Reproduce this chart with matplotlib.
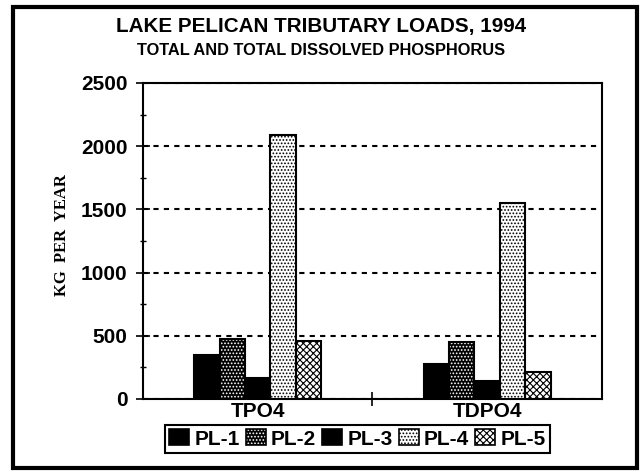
import numpy as np
import matplotlib.pyplot as plt
from matplotlib.patches import Patch, Rectangle
from matplotlib.ticker import MultipleLocator

# Cargas anuales de fósforo (kg/año) por tributario
categorias = ['TPO4', 'TDPO4']
series = ['PL-1', 'PL-2', 'PL-3', 'PL-4', 'PL-5']
pl1 = [350, 280]
pl2 = [475, 450]
pl3 = [170, 140]
pl4 = [2085, 1550]
pl5 = [455, 210]

valores = [pl1, pl2, pl3, pl4, pl5]

# Estilo de cada serie: (relleno, color del rayado, rayado)
estilos = {
    'PL-1': ('black', 'black', None),
    'PL-2': ('black', 'white', '.....'),
    'PL-3': ('black', 'black', None),
    'PL-4': ('white', 'black', '.....'),
    'PL-5': ('white', 'black', 'xxxxx'),
}

plt.rcParams['hatch.linewidth'] = 0.8

fig = plt.figure(figsize=(6.43, 4.75), dpi=100)
ax = fig.add_axes([0.2224, 0.16, 0.7138, 0.6653])

x = np.arange(len(categorias))
ancho = 0.111
handles = []
for i, (nombre, vals) in enumerate(zip(series, valores)):
    pos = x + (i - 2) * ancho
    cara, rayado_color, rayado = estilos[nombre]
    ax.bar(pos, vals, width=ancho, color=cara, edgecolor=rayado_color,
           hatch=rayado, linewidth=0, zorder=3)
    ax.bar(pos, vals, width=ancho, fill=False, edgecolor='black',
           linewidth=1.5, zorder=4)
    h1 = Patch(facecolor=cara, edgecolor=rayado_color, hatch=rayado, linewidth=0)
    h2 = Patch(fill=False, edgecolor='black', linewidth=1.2)
    handles.append((h1, h2))

ax.set_xlim(-0.5, 1.5)
ax.set_ylim(0, 2500)
ax.set_xticks([0.5])
ax.set_xticklabels([])
ax.set_xticks(x, minor=True)
ax.set_xticklabels(categorias, minor=True, fontsize=15, fontweight='bold',
                   family='Liberation Sans')
ax.tick_params(axis='x', which='major', direction='inout', length=10, width=1.2)
ax.tick_params(axis='x', which='minor', length=0, pad=2)

ax.yaxis.set_major_locator(MultipleLocator(500))
ax.yaxis.set_minor_locator(MultipleLocator(250))
ax.tick_params(axis='y', which='major', direction='inout', length=10, width=1.2,
               labelsize=15, pad=6)
ax.tick_params(axis='y', which='minor', direction='inout', length=5, width=1.0)
for lbl in ax.get_yticklabels():
    lbl.set_fontweight('bold')
    lbl.set_family('Liberation Sans')

# Líneas de referencia punteadas
ax.grid(axis='y', which='major', linestyle=(0, (2.5, 2.5)), color='black',
        linewidth=1.5, zorder=1)
for s in ax.spines.values():
    s.set_linewidth(1.5)

ax.set_ylabel('KG  PER  YEAR', fontsize=12, fontweight='bold',
              family='Liberation Serif')
ax.yaxis.set_label_coords(-0.158, 0.52)

fig.text(0.5, 0.944, 'LAKE PELICAN TRIBUTARY LOADS, 1994', ha='center',
         va='center', fontsize=14.9, fontweight='bold', family='Liberation Sans')
fig.text(0.5, 0.893, 'TOTAL AND TOTAL DISSOLVED PHOSPHORUS', ha='center',
         va='center', fontsize=11.8, fontweight='bold', family='Liberation Sans')

leg = fig.legend(handles, series, loc='center', bbox_to_anchor=(0.556, 0.076),
                 ncol=5, fancybox=False, framealpha=1, edgecolor='black',
                 handlelength=0.95, handleheight=0.8, handletextpad=0.25,
                 columnspacing=0.3, borderpad=0.2, borderaxespad=0,
                 prop={'family': 'Liberation Sans', 'weight': 'bold', 'size': 15})
leg.get_frame().set_linewidth(1.5)

# Marco exterior de la figura
fig.patches.append(Rectangle((0.02, 0.015), 0.97, 0.97, transform=fig.transFigure,
                             fill=False, edgecolor='black', linewidth=3))

fig.savefig('out.png', dpi=100)
